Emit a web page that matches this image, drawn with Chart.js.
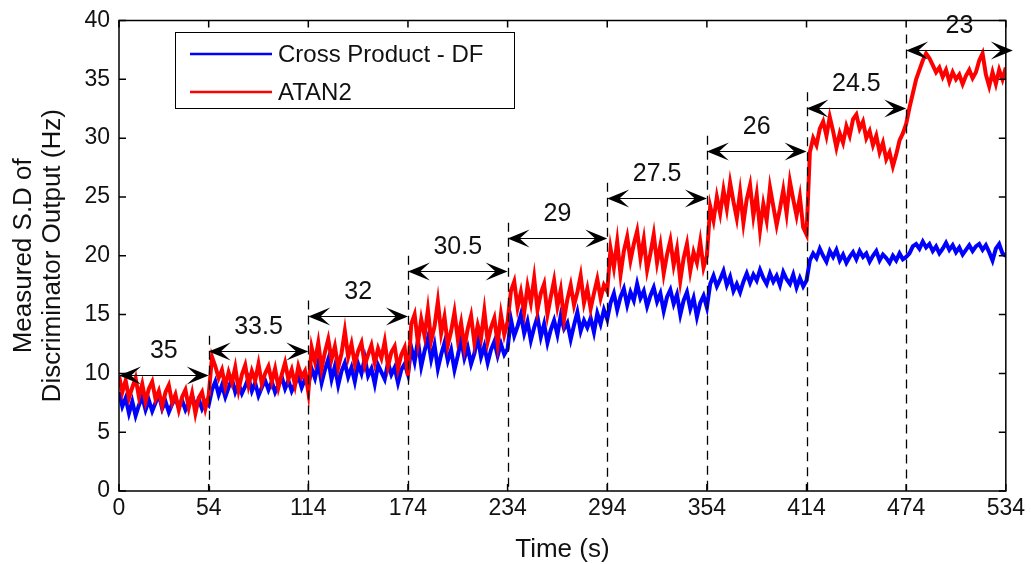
<!DOCTYPE html>
<html lang="en">
<head>
    <meta charset="UTF-8">
    <title>Discriminator Output S.D</title>
    <script src="https://cdn.jsdelivr.net/npm/chart.js"></script>
    <style>
        html, body { margin: 0; padding: 0; background: #fff; }
        #wrap { width: 1031px; height: 564px; position: relative; }
    </style>
</head>
<body>
<div id="wrap"><canvas id="sdChart"></canvas></div>
<script>
    const FONT = '"Liberation Sans", Arial, sans-serif';

    // sampling interval of both traces (s)
    const sampleStep = 2;

    // Cross Product - DF, one value every 2 s from t = 0 to 534
    const crossProductDF = [
        8.4, 7.2, 7.9, 6.6, 7.6, 6.4, 7.3, 8.0, 6.9, 7.7, 6.8, 7.5, 8.2, 7.0, 7.6, 6.7, 7.4, 7.9, 7.1, 7.7, 6.9, 7.5, 8.1, 7.2, 7.8, 7.0, 7.6, 7.3,
        8.6, 9.3, 8.2, 9.0, 8.0, 8.8, 9.5, 8.4, 9.1, 8.3, 8.9, 9.6, 8.5, 9.2, 8.1, 8.8, 9.4, 8.6, 9.3, 8.4, 9.0, 9.7, 8.7, 9.4, 8.5, 9.1, 9.8, 8.8, 9.5, 9.0,
        10.4, 9.6, 10.9, 9.2, 10.3, 11.2, 9.5, 10.6, 9.0, 10.2, 10.9, 9.7, 10.5, 9.3, 10.8, 10.0, 11.3, 9.8, 10.4, 9.1, 10.7, 10.1, 9.5, 10.9, 9.9, 10.5, 9.2, 10.3, 10.8, 9.9,
        12.2, 11.0, 12.8, 10.6, 11.9, 13.0, 11.2, 12.4, 10.4, 11.6, 12.6, 11.1, 12.0, 10.3, 11.5, 12.9, 11.3, 12.2, 10.8, 11.7, 13.1, 11.4, 12.3, 10.9, 12.0, 12.7, 11.5, 12.5, 11.6, 12.1,
        14.6, 13.2, 14.0, 15.0, 13.4, 14.4, 12.8, 13.9, 14.8, 13.1, 14.2, 12.6, 13.7, 14.5, 13.3, 14.9, 13.8, 14.3, 12.9, 14.1, 15.2, 13.6, 14.5, 13.9, 14.7, 13.5, 15.1, 14.2, 15.4, 14.6,
        16.0, 16.8, 15.4, 16.5, 17.2, 15.8, 16.9, 16.2, 17.6, 16.4, 17.0, 15.7, 16.6, 17.3, 16.1, 16.8, 15.3, 16.5, 17.1, 15.9, 16.7, 15.0, 16.2, 16.9, 15.5, 16.4, 14.8, 16.0, 16.6, 15.6,
        17.6, 18.3, 17.4, 18.0, 18.7, 17.5, 18.2, 17.0, 17.6, 16.9, 17.8, 18.5, 17.7, 18.4, 17.9, 18.8, 18.1, 17.6, 18.5, 17.8, 18.3, 17.5, 18.6, 18.0, 17.6, 18.4, 17.3, 18.1, 17.4, 17.9,
        19.6, 20.2, 19.8, 20.6, 20.0, 19.5, 20.4, 19.9, 20.5, 19.6, 20.1, 19.4, 19.9, 20.3, 19.7, 20.4, 19.9, 20.2, 19.5, 20.0, 20.4, 19.6, 20.1, 19.8, 19.4, 20.0, 19.6, 20.2, 19.7, 19.9,
        20.2, 20.8, 21.0, 20.6, 21.2, 20.7, 21.0, 20.4, 20.8, 20.2, 20.6, 21.1, 20.5, 20.9, 20.3, 20.7, 20.1, 20.5, 20.9, 20.4, 20.8, 21.0, 20.5, 20.9, 20.3, 19.6, 20.6, 21.0, 20.2, 20.0
    ];

    // ATAN2, same time base
    const atan2Series = [
        9.8, 8.4, 9.4, 7.9, 8.8, 9.6, 8.0, 9.1, 7.6, 8.7, 9.3, 7.8, 8.5, 7.2, 8.4, 9.0, 7.5, 8.2, 6.9, 8.0, 8.6, 7.1, 8.3, 6.6, 7.9, 8.4, 7.0, 8.1,
        11.4, 10.6, 9.6, 10.3, 8.9, 10.1, 9.2, 10.5, 8.6, 9.9, 10.7, 9.0, 10.2, 9.4, 10.8, 9.1, 10.0, 10.6, 9.3, 10.4, 8.8, 9.9, 10.9, 9.5, 10.3, 9.0, 10.6, 9.7, 10.2, 8.4,
        12.2, 11.0, 12.6, 10.4, 11.8, 12.9, 11.2, 12.3, 10.5, 11.7, 13.6, 11.4, 12.5, 10.8, 11.9, 12.6, 10.7, 11.6, 12.4, 10.9, 12.1, 11.3, 12.7, 10.6, 11.8, 12.3, 10.4, 11.6, 12.2, 9.8,
        14.2, 15.0, 12.6, 14.6, 13.2, 15.4, 12.8, 14.0, 16.1, 13.4, 14.8, 12.4, 13.6, 15.2, 12.9, 14.3, 12.2, 13.8, 14.9, 12.6, 14.1, 13.0, 15.3, 12.7, 13.9, 14.7, 12.5, 15.0, 13.3, 14.4,
        17.0, 17.8, 15.6, 16.9, 15.2, 17.4, 16.0, 18.1, 15.4, 16.8, 17.6, 15.0, 16.5, 17.9, 15.7, 17.1, 14.6, 16.3, 17.5, 15.8, 16.9, 18.3, 16.0, 17.2, 15.5, 16.8, 18.0, 16.4, 17.5, 17.0,
        20.6, 19.0, 21.2, 18.4, 20.4, 21.6, 19.6, 21.0, 22.1, 19.8, 21.4, 18.8, 20.2, 21.8, 19.4, 20.9, 18.5, 20.1, 21.3, 19.2, 20.6, 17.9, 19.8, 21.0, 18.7, 20.3, 19.4, 21.2, 19.0, 20.0,
        24.2, 23.0, 25.0, 23.6, 25.6, 24.0, 26.2, 24.6, 23.2, 25.4, 22.8, 24.8, 26.0, 23.4, 25.2, 22.2, 24.4, 23.0, 25.8, 24.2, 22.6, 24.0, 25.6, 23.6, 26.3, 24.8, 23.4, 25.0, 22.4, 21.8,
        28.8, 30.0, 29.4, 30.8, 31.4, 30.2, 31.8, 30.6, 29.2, 30.4, 29.6, 31.0, 30.2, 31.6, 32.0, 30.8, 31.4, 30.0, 30.6, 29.4, 30.2, 28.8, 29.6, 28.2, 28.8, 27.6, 28.6, 29.8, 30.4, 31.2,
        32.6, 33.8, 35.0, 35.8, 36.6, 37.2, 36.8, 36.2, 35.6, 36.0, 35.2, 35.8, 34.8, 35.6, 35.0, 35.4, 34.6, 35.3, 35.8, 35.1, 35.6, 36.6, 37.2, 35.4, 34.4, 35.6, 34.6, 35.8, 35.0, 36.0
    ];

    const xTicks = [0, 54, 114, 174, 234, 294, 354, 414, 474, 534];

    // C/N0 steps: segment edges (s), label over each segment, height of its arrow (Hz)
    const segmentEdges = [0, 54, 114, 174, 234, 294, 354, 414, 474, 534];
    const segmentLabels = ['35', '33.5', '32', '30.5', '29', '27.5', '26', '24.5', '23'];
    const arrowLevels = [9.9, 11.9, 14.9, 18.7, 21.5, 24.9, 28.9, 32.6, 37.5];

    const toPoints = vals => vals.map((v, i) => ({ x: i * sampleStep, y: v }));

    function arrowHead(ctx, x, y, dir) {
        const L = 22, W = 9;
        ctx.beginPath();
        ctx.moveTo(x, y);
        ctx.lineTo(x - dir * L, y - W);
        ctx.lineTo(x - dir * L * 0.55, y);
        ctx.lineTo(x - dir * L, y + W);
        ctx.closePath();
        ctx.fill();
    }

    // axes box with inward ticks, dashed step markers, arrows and legend
    const matlabDecor = {
        id: 'matlabDecor',
        afterDatasetsDraw(chart) {
            const { ctx, chartArea: a, scales: { x, y } } = chart;
            ctx.save();
            ctx.strokeStyle = '#000';
            ctx.fillStyle = '#000';

            // dashed verticals
            ctx.lineWidth = 1.3;
            ctx.setLineDash([9, 6]);
            for (let i = 1; i < segmentEdges.length - 1; i++) {
                const px = Math.round(x.getPixelForValue(segmentEdges[i])) + 0.5;
                ctx.beginPath();
                ctx.moveTo(px, y.getPixelForValue(arrowLevels[i] + 1.3));
                ctx.lineTo(px, a.bottom);
                ctx.stroke();
            }
            ctx.setLineDash([]);

            // double arrows + labels
            ctx.font = '25px ' + FONT;
            ctx.textAlign = 'center';
            ctx.textBaseline = 'middle';
            ctx.lineWidth = 1.2;
            for (let i = 0; i < segmentLabels.length; i++) {
                const x1 = x.getPixelForValue(segmentEdges[i]);
                let x2 = x.getPixelForValue(segmentEdges[i + 1]);
                if (i === segmentLabels.length - 1) x2 += 7;  // last arrow pokes through the box
                const py = Math.round(y.getPixelForValue(arrowLevels[i])) + 0.5;
                ctx.beginPath();
                ctx.moveTo(x1 + 8, py);
                ctx.lineTo(x2 - 8, py);
                ctx.stroke();
                arrowHead(ctx, x1, py, -1);
                arrowHead(ctx, x2, py, 1);
                ctx.fillStyle = '#111';
                ctx.fillText(segmentLabels[i], (x1 + x2) / 2, py - 24);
                ctx.fillStyle = '#000';
            }

            // box
            ctx.lineWidth = 1.5;
            ctx.strokeRect(a.left, a.top, a.right - a.left, a.bottom - a.top);

            // inward ticks on all four sides
            const tl = 7;
            ctx.beginPath();
            xTicks.forEach(v => {
                const px = x.getPixelForValue(v);
                ctx.moveTo(px, a.bottom); ctx.lineTo(px, a.bottom - tl);
                ctx.moveTo(px, a.top); ctx.lineTo(px, a.top + tl);
            });
            y.ticks.forEach(t => {
                const py = y.getPixelForValue(t.value);
                ctx.moveTo(a.left, py); ctx.lineTo(a.left + tl, py);
                ctx.moveTo(a.right, py); ctx.lineTo(a.right - tl, py);
            });
            ctx.stroke();

            // legend box
            const lx = 175, ly = 32, lw = 339, lh = 76;
            ctx.fillStyle = '#fff';
            ctx.fillRect(lx, ly, lw, lh);
            ctx.lineWidth = 1;
            ctx.strokeRect(lx + 0.5, ly + 0.5, lw, lh);
            ctx.font = '24px ' + FONT;
            ctx.textAlign = 'left';
            ctx.textBaseline = 'middle';
            chart.data.datasets.forEach((ds, i) => {
                const ry = ly + 22 + i * 38;
                ctx.strokeStyle = ds.borderColor;
                ctx.lineWidth = 2.5;
                ctx.beginPath();
                ctx.moveTo(lx + 15, ry);
                ctx.lineTo(lx + 97, ry);
                ctx.stroke();
                ctx.fillStyle = '#111';
                ctx.fillText(ds.label, lx + 103, ry + 1);
            });
            ctx.restore();
        }
    };

    new Chart(document.getElementById('sdChart'), {
        type: 'line',
        data: {
            datasets: [{
                label: 'Cross Product - DF',
                data: toPoints(crossProductDF),
                borderColor: '#0000ff',
                borderWidth: 4,
                pointRadius: 0,
                tension: 0,
                order: 2
            }, {
                label: 'ATAN2',
                data: toPoints(atan2Series),
                borderColor: '#ff0000',
                borderWidth: 4,
                pointRadius: 0,
                tension: 0,
                order: 1
            }]
        },
        options: {
            responsive: true,
            maintainAspectRatio: false,
            animation: false,
            layout: { padding: { top: 18, right: 23, left: 0, bottom: 0 } },
            plugins: {
                legend: { display: false },
                tooltip: { enabled: false }
            },
            scales: {
                x: {
                    type: 'linear',
                    min: 0,
                    max: 534,
                    afterBuildTicks: s => { s.ticks = xTicks.map(v => ({ value: v })); },
                    afterFit: s => { s.height = 73; },
                    grid: { display: false, drawTicks: false },
                    border: { display: false },
                    ticks: {
                        color: '#111',
                        padding: 6,
                        maxRotation: 0,
                        autoSkip: false,
                        font: { family: FONT, size: 23, lineHeight: 1 }
                    },
                    title: {
                        display: true,
                        text: 'Time (s)',
                        color: '#111',
                        padding: { top: 0, bottom: 1 },
                        font: { family: FONT, size: 26, lineHeight: 1 }
                    }
                },
                y: {
                    min: 0,
                    max: 40,
                    afterFit: s => { s.width = 119; },
                    grid: { display: false, drawTicks: false },
                    border: { display: false },
                    ticks: {
                        stepSize: 5,
                        color: '#111',
                        padding: 9,
                        font: { family: FONT, size: 23, lineHeight: 1 }
                    },
                    title: {
                        display: true,
                        text: ['Measured S.D of', 'Discriminator Output (Hz)'],
                        color: '#111',
                        padding: { top: 9, bottom: 0 },
                        font: { family: FONT, size: 26, lineHeight: '29px' }
                    }
                }
            }
        },
        plugins: [matlabDecor]
    });
</script>
</body>
</html>
